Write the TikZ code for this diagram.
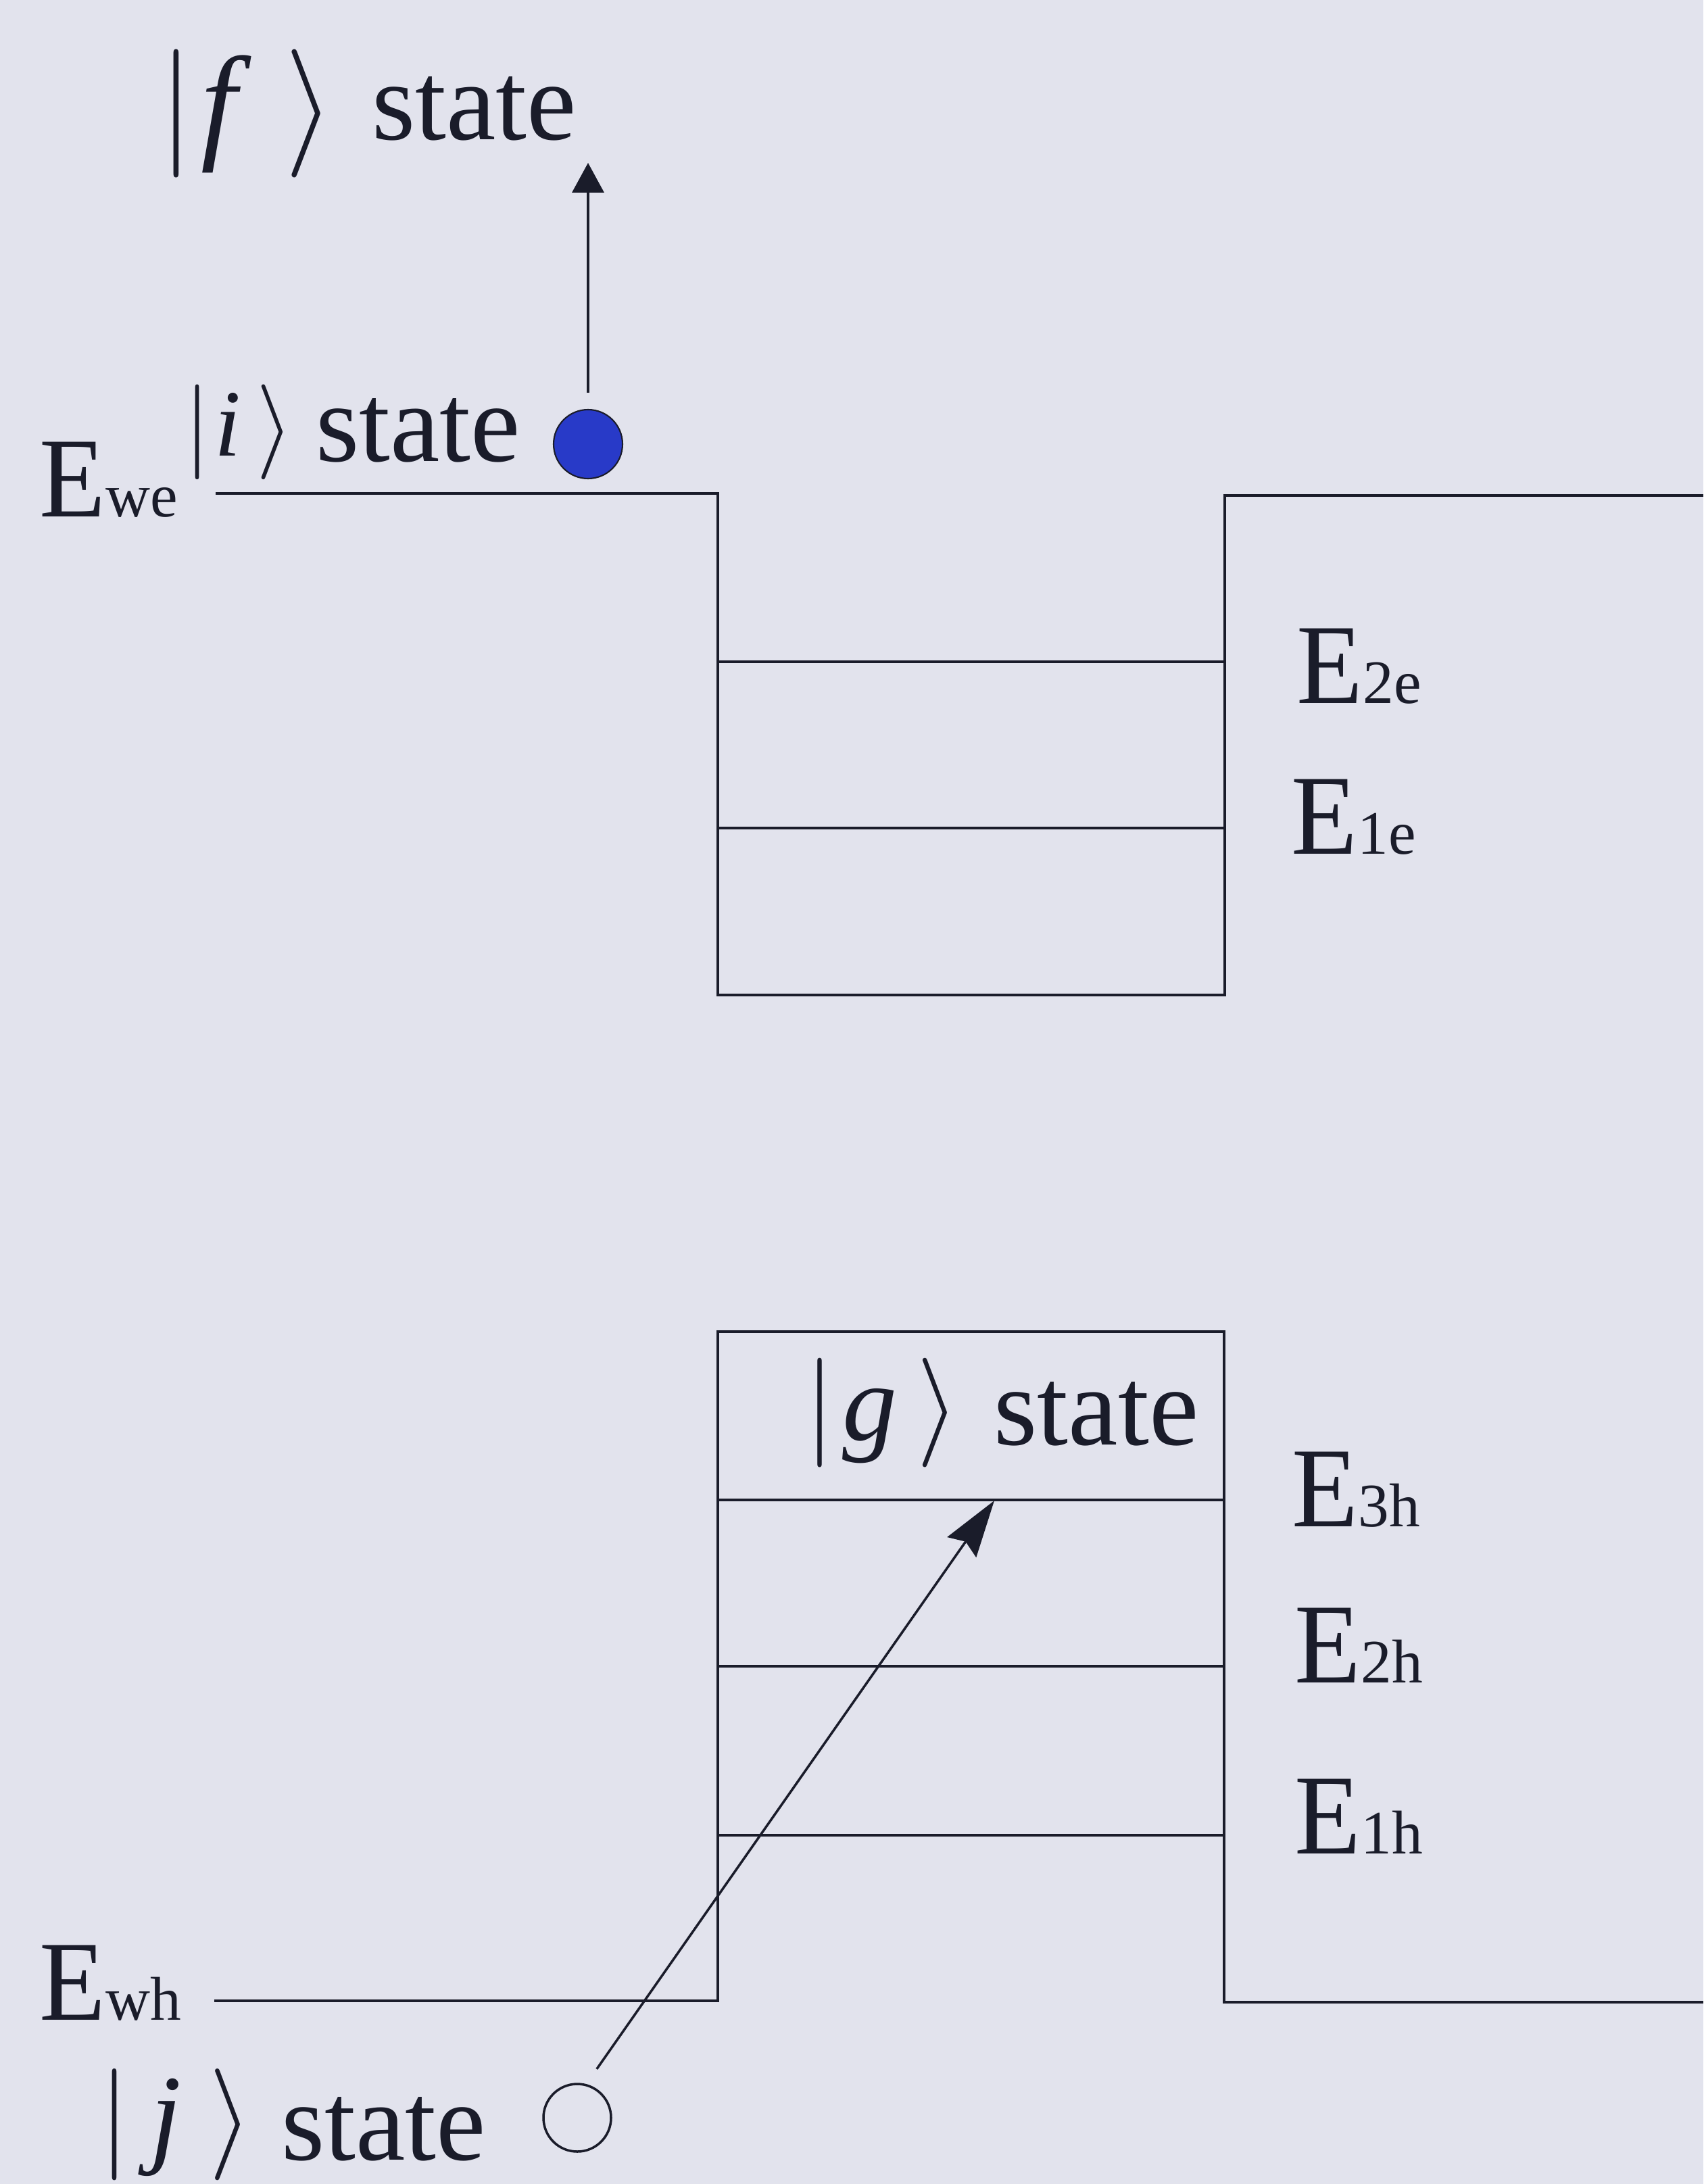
\documentclass[tikz,border=0pt]{standalone}
\usepackage{fix-cm}
\usepackage{graphicx}
\usepackage{fontspec}
\setmainfont{Liberation Serif}
\usetikzlibrary{arrows.meta}
\definecolor{bgcol}{RGB}{226,227,237}
\definecolor{ink}{RGB}{26,28,42}
\definecolor{dotcol}{RGB}{40,58,200}
\newcommand{\bigtxt}{\fontsize{47}{52}\selectfont}
\newcommand{\ketsize}[1]{\fontsize{#1}{#1}\selectfont}
\newcommand{\subtxt}{\fontsize{26}{28}\selectfont}
\newcommand{\elab}[1]{{\fontsize{48}{52}\selectfont\scalebox{0.95}[1]{E}}{\subtxt #1}}
\begin{document}
\begin{tikzpicture}[
  band/.style={draw=ink, line width=1.1pt},
  lbl/.style={anchor=base west, inner sep=0pt, text=ink},
  conn/.style={draw=ink, line width=1.0pt},
]
\fill[bgcol] (0,0) rectangle (25.2,-32.31);
\useasboundingbox (0,0) rectangle (25.2,-32.31);

% conduction band well
\draw[band] (3.19,-7.30) -- (10.62,-7.30) -- (10.62,-14.72) -- (18.12,-14.72) -- (18.12,-7.33) -- (25.2,-7.33);
\draw[band] (10.62,-9.79) -- (18.12,-9.79);
\draw[band] (10.62,-12.25) -- (18.12,-12.25);

% valence band well
\draw[band] (3.17,-29.60) -- (10.62,-29.60) -- (10.62,-19.70) -- (18.11,-19.70) -- (18.11,-29.62) -- (25.2,-29.62);
\draw[band] (10.62,-22.19) -- (18.11,-22.19);
\draw[band] (10.62,-24.65) -- (18.11,-24.65);
\draw[band] (10.62,-27.15) -- (18.11,-27.15);

% energy labels
\node[lbl] (Ewe) at (0.58,-7.65) {\elab{we}};
\node[lbl] (Ewh) at (0.58,-29.88) {\elab{wh}};
\node[lbl] (E2e) at (19.18,-10.40) {\elab{2e}};
\node[lbl] (E1e) at (19.10,-12.63) {\elab{1e}};
\node[lbl] (E3h) at (19.11,-22.58) {\elab{3h}};
\node[lbl] (E2h) at (19.15,-24.89) {\elab{2h}};
\node[lbl] (E1h) at (19.15,-27.42) {\elab{1h}};

% state labels
\node[lbl] (fstate) at (2.34,-2.07) {\bigtxt\raisebox{-2.5pt}{\ketsize{54}$|$\hspace{3pt}\textit{f}\hspace{14pt}$\rangle$}\hspace{15.5pt}state};
\node[lbl] (istate) at (2.72,-6.83) {\bigtxt\raisebox{2.3pt}{\ketsize{40}$|$\hspace{1.6pt}\textit{i}\hspace{6.5pt}$\rangle$}\hspace{9.5pt}state};
\node[lbl] (gstate) at (11.90,-21.375) {\bigtxt\raisebox{2pt}{\ketsize{46}$|$\hspace{3pt}\textit{g}\hspace{8.5pt}$\rangle$}\hspace{14.5pt}state};
\node[lbl] (jstate) at (1.46,-31.95) {\bigtxt\raisebox{3pt}{\ketsize{47}$|$\hspace{8.5pt}\textit{j}\hspace{11.8pt}$\rangle$}\hspace{12pt}state};

% particles
\node[circle, fill=dotcol, draw=ink, line width=0.6pt, minimum size=1.02cm, inner sep=0pt] (idot) at (8.70,-6.57) {};
\node[circle, draw=ink, line width=1.0pt, minimum size=1.0cm, inner sep=0pt] (jdot) at (8.54,-31.33) {};

\coordinate (ftip) at (8.70,-2.41);
\coordinate (gtip) at (14.71,-22.20);

\draw[conn, shorten <=0.24cm, -{Triangle[length=0.44cm,width=0.47cm]}] (idot.north) -- (ftip);
\draw[conn, shorten <=0.27cm, -{Stealth[length=0.84cm,width=0.52cm,inset=0.1cm]}] (jdot.75) -- (gtip);
\end{tikzpicture}
\end{document}
